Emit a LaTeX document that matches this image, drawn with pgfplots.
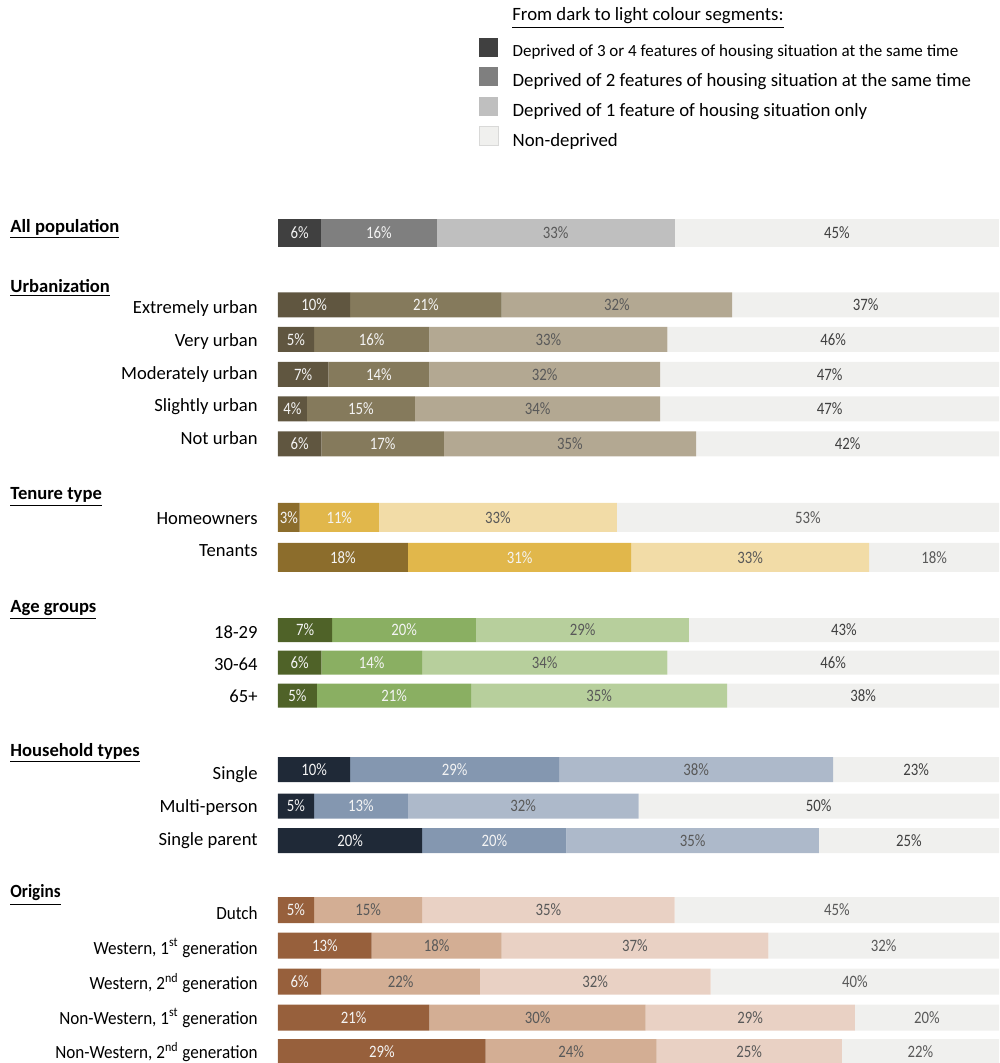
\documentclass[border=0pt]{standalone}
\usepackage{pgfplots}
\usepackage{pgfplotstable}
\pgfplotsset{compat=1.18}
\usepackage{fontspec}
\setmainfont{Carlito}
\newfontfamily\condfont{Carlito}[FakeStretch=0.85]
\newfontfamily\condfontb{Carlito}[FakeStretch=0.92]
\newcommand\pct{\condfont\fontsize{8.7}{10}\selectfont}
\newcommand\cat{\fontsize{9.3}{11}\selectfont}
\newcommand\catc{\condfontb\fontsize{9.3}{11}\selectfont}

\definecolor{g1}{HTML}{404040}\definecolor{g2}{HTML}{7F7F7F}\definecolor{g3}{HTML}{BFBFBF}
\definecolor{nd}{HTML}{F0F0EE}
\definecolor{u1}{HTML}{605640}\definecolor{u2}{HTML}{857A5C}\definecolor{u3}{HTML}{B3A892}
\definecolor{t1}{HTML}{8C6D2C}\definecolor{t2}{HTML}{E1B74B}\definecolor{t3}{HTML}{F2DCA7}
\definecolor{a1}{HTML}{4F6228}\definecolor{a2}{HTML}{8AAF62}\definecolor{a3}{HTML}{B7CF9C}
\definecolor{h1}{HTML}{1F2937}\definecolor{h2}{HTML}{8497B0}\definecolor{h3}{HTML}{ADB9CA}
\definecolor{o1}{HTML}{97603C}\definecolor{o2}{HTML}{D3AE94}\definecolor{o3}{HTML}{E9D1C4}
\definecolor{txl}{HTML}{595959}\definecolor{txd}{HTML}{404040}\definecolor{txw}{HTML}{F4F4F4}

% y = row position (pixels from top); a,b,c,d = segment widths; la..ld = printed labels
\pgfplotstableread{
y a b c d la lb lc ld
233 6 16 33 45 6 16 33 45
}\tabAll
\pgfplotstableread{
y a b c d la lb lc ld
305 10 21 32 37 10 21 32 37
339.5 5 16 33 46 5 16 33 46
374.5 7 14 32 47 7 14 32 47
409 4 15 34 47 4 15 34 47
444 6 17 35 42 6 17 35 42
}\tabUrb
\pgfplotstableread{
y a b c d la lb lc ld
517.5 3 11 33 53 3 11 33 53
557.5 18 31 33 18 18 31 33 18
}\tabTen
\pgfplotstableread{
y a b c d la lb lc ld
630 7.5 20 29.5 43 7 20 29 43
662.5 6 14 34 46 6 14 34 46
695.5 5.4 21.4 35.5 37.7 5 21 35 38
}\tabAge
\pgfplotstableread{
y a b c d la lb lc ld
769.5 10 29 38 23 10 29 38 23
806 5 13 32 50 5 13 32 50
840.5 20 20 35 25 20 20 35 25
}\tabHH
\pgfplotstableread{
y a b c d la lb lc ld
910 5 15 35 45 5 15 35 45
945.5 13 18 37 32 13 18 37 32
981.5 6 22 32 40 6 22 32 40
1017.5 21 30 29 20 21 30 29 20
1052 28.8 23.7 25.7 21.8 29 24 25 22
}\tabOri

\pgfplotsset{
  base/.style={xbar stacked, x=3.605pt, y=0.5pt, y dir=reverse,
    xmin=0, xmax=100, ymin=0, ymax=1063, hide axis, clip=false,
    at={(0,0)}, anchor=south west, bar width=#1,
    point meta=explicit,
    /pgf/number format/assume math mode=true,
    nodes near coords={\pgfmathprintnumber{\pgfplotspointmeta}\%},
    every node near coord/.append style={font=\pct, anchor=center, inner sep=0pt},
  },
  seg/.style n args={3}{fill=#2, draw=none, table/x=#1, table/y=y, table/meta=l#1,
    every node near coord/.append style={text=#3}},
}
\tikzset{
  lab/.style={anchor=east, inner sep=0pt, font=\cat},
  labc/.style={anchor=east, inner sep=0pt, font=\catc},
  head/.style={anchor=west, inner sep=0pt, font=\cat\bfseries},
}

\begin{document}
\begin{tikzpicture}
\useasboundingbox (-139pt,0pt) rectangle (360.5pt,531.5pt);
\clip (-139pt,0pt) rectangle (360.5pt,531.5pt);
% ---------- All population + legend
\begin{axis}[base=14pt,
  legend style={at={(0.2788,0.9647)}, anchor=north west, draw=none, fill=none,
    inner sep=0pt, outer sep=0pt, row sep=3.4pt,
    font=\fontsize{9.4}{11}\selectfont,
    nodes={inner sep=0pt},
    /tikz/every odd column/.append style={column sep=7pt}},
  legend cell align=left,
  legend image code/.code={\fill[#1] (0pt,-2pt) rectangle (9.5pt,7.5pt);},
]
\addlegendimage{fill=g1, draw=none}
\addlegendentry{\fontsize{8.5}{10}\selectfont Deprived of 3 or 4 features of housing situation at the same time}
\addlegendimage{fill=g2, draw=none}
\addlegendentry{Deprived of 2 features of housing situation at the same time}
\addlegendimage{fill=g3, draw=none}
\addlegendentry{Deprived of 1 feature of housing situation only}
\addlegendimage{fill=nd, draw=nd!80!gray, line width=0.3pt}
\addlegendentry{Non-deprived}
\addplot[seg={a}{g1}{txw}] table {\tabAll};
\addplot[seg={b}{g2}{txw}] table {\tabAll};
\addplot[seg={c}{g3}{txl}] table {\tabAll};
\addplot[seg={d}{nd}{txd}] table {\tabAll};
\node[anchor=west, inner sep=0pt, font=\fontsize{9.4}{11}\selectfont] at (axis cs:32.45,18) {\underline{From dark to light colour segments:}};
\node[head] at (axis cs:-37.17,229) {\underline{All population}};
\end{axis}
% ---------- Urbanization
\begin{axis}[base=12.5pt]
\addplot[seg={a}{u1}{txw}] table {\tabUrb};
\addplot[seg={b}{u2}{txw}] table {\tabUrb};
\addplot[seg={c}{u3}{txl}] table {\tabUrb};
\addplot[seg={d}{nd}{txd}] table {\tabUrb};
\node[head] at (axis cs:-37.17,288) {\underline{Urbanization}};
\node[lab] at (axis cs:-2.774,309) {Extremely urban};
\node[lab] at (axis cs:-2.774,342) {Very urban};
\node[lab] at (axis cs:-2.774,375) {Moderately urban};
\node[lab] at (axis cs:-2.774,407) {Slightly urban};
\node[lab] at (axis cs:-2.774,438) {Not urban};
\end{axis}
% ---------- Tenure
\begin{axis}[base=14.5pt]
\addplot[seg={a}{t1}{txw}] table {\tabTen};
\addplot[seg={b}{t2}{txw}] table {\tabTen};
\addplot[seg={c}{t3}{txl}] table {\tabTen};
\addplot[seg={d}{nd}{txl}] table {\tabTen};
\node[head] at (axis cs:-37.17,497) {\underline{Tenure type}};
\node[lab] at (axis cs:-2.774,519) {Homeowners};
\node[lab] at (axis cs:-2.774,551) {Tenants};
\end{axis}
% ---------- Age
\begin{axis}[base=12pt]
\addplot[seg={a}{a1}{txw}] table {\tabAge};
\addplot[seg={b}{a2}{txw}] table {\tabAge};
\addplot[seg={c}{a3}{txl}] table {\tabAge};
\addplot[seg={d}{nd}{txd}] table {\tabAge};
\node[head] at (axis cs:-37.17,610) {\underline{Age groups}};
\node[lab] at (axis cs:-2.774,632) {18-29};
\node[lab] at (axis cs:-2.774,664) {30-64};
\node[lab] at (axis cs:-2.774,696) {65+};
\end{axis}
% ---------- Household
\begin{axis}[base=12.5pt]
\addplot[seg={a}{h1}{txw}] table {\tabHH};
\addplot[seg={b}{h2}{txw}] table {\tabHH};
\addplot[seg={c}{h3}{txl}] table {\tabHH};
\addplot[seg={d}{nd}{txd}] table {\tabHH};
\node[head] at (axis cs:-37.17,753) {\underline{Household types}};
\node[lab] at (axis cs:-2.774,775) {Single};
\node[lab] at (axis cs:-2.774,808) {Multi-person};
\node[lab] at (axis cs:-2.774,841) {Single parent};
\end{axis}
% ---------- Origins
\begin{axis}[base=13pt]
\addplot[seg={a}{o1}{txw}] table {\tabOri};
\addplot[seg={b}{o2}{txl}] table {\tabOri};
\addplot[seg={c}{o3}{txl}] table {\tabOri};
\addplot[seg={d}{nd}{txl}] table {\tabOri};
\node[head, font=\catc\bfseries] at (axis cs:-37.17,895) {\underline{Origins}};
\node[labc] at (axis cs:-2.774,913) {Dutch};
\node[labc] at (axis cs:-2.774,948) {Western, 1\textsuperscript{st} generation};
\node[labc] at (axis cs:-2.774,983) {Western, 2\textsuperscript{nd} generation};
\node[labc] at (axis cs:-2.774,1018) {Non-Western, 1\textsuperscript{st} generation};
\node[labc] at (axis cs:-2.774,1052) {Non-Western, 2\textsuperscript{nd} generation};
\end{axis}
\end{tikzpicture}
\end{document}
